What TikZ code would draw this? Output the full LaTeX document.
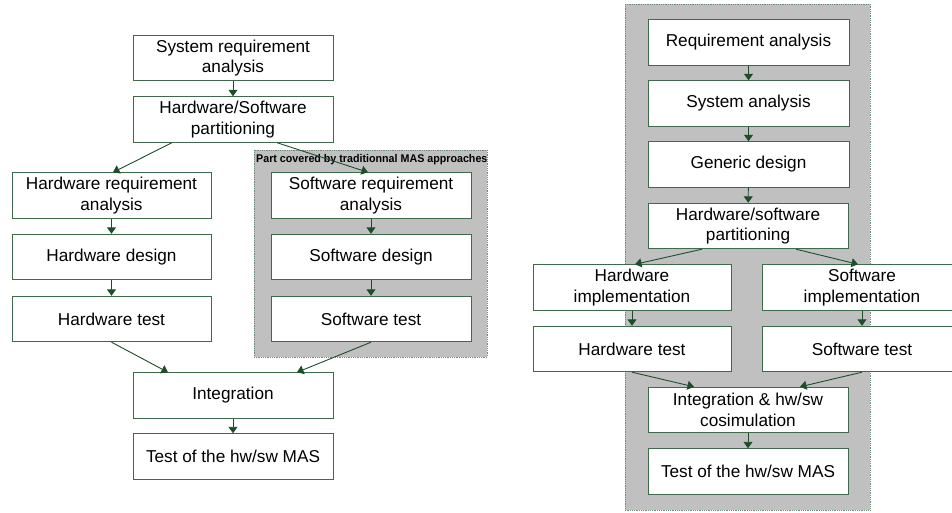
\documentclass[tikz,border=0pt]{standalone}
\usepackage{fontspec}
\setmainfont{Liberation Sans}
\usetikzlibrary{arrows.meta}
\definecolor{boxgreen}{HTML}{3C6A4A}
\definecolor{arrgreen}{HTML}{1E4D2C}
\definecolor{grayfill}{HTML}{C0C0C0}
\definecolor{grayedge}{HTML}{6F8A76}
\tikzset{
  box/.style={draw=boxgreen, line width=0.9pt, fill=white, minimum width=200pt, minimum height=45.5pt,
    inner sep=0pt, align=center, font=\fontsize{17.2}{20.8}\selectfont},
  conn/.style={draw=arrgreen, line width=0.9pt, -{Triangle[width=9pt,length=6.5pt]}},
  region/.style={fill=grayfill, draw=grayedge, densely dotted, line width=0.8pt}
}
\begin{document}
\begin{tikzpicture}[x=1pt,y=-1pt]
\clip (0,0) rectangle (952,513);
\fill[white] (0,0) rectangle (952,513);
% ---------- left diagram ----------
\draw[region] (254,150) rectangle (487,357);
\node[anchor=base west, inner sep=0pt] (lbl) at (256,163)
  {\scalebox{0.955}[1]{\fontsize{11.2}{13}\selectfont\bfseries Part covered by traditionnal MAS approaches}};
\node[box] (sys) at (233,58) {System requirement\\analysis};
\node[box] (part) at (233,119.5) {Hardware/Software\\partitioning};
\node[box, minimum width=199pt] (hwreq) at (111.5,195.5) {Hardware requirement\\analysis};
\node[box, minimum width=199pt] (hwdes) at (111.5,257) {Hardware design};
\node[box, minimum width=199pt] (hwtest) at (111.5,319) {Hardware test};
\node[box] (swreq) at (371,195.5) {Software requirement\\analysis};
\node[box] (swdes) at (371,257) {Software design};
\node[box] (swtest) at (371,319) {Software test};
\node[box] (integ) at (233,395.5) {Integration};
\node[box] (tmas) at (233,456.5) {Test of the hw/sw MAS};
\draw[conn] (sys) -- (part);
\draw[conn] ([xshift=-61pt]part.south) -- ([xshift=1.5pt]hwreq.north);
\draw[conn] ([xshift=44pt]part.south) -- ([xshift=-3pt]swreq.north);
\draw[conn] (hwreq) -- (hwdes);
\draw[conn] (hwdes) -- (hwtest);
\draw[conn] (swreq) -- (swdes);
\draw[conn] (swdes) -- (swtest);
\draw[conn] (hwtest.south) -- ([xshift=-65pt]integ.north);
\draw[conn] (swtest.south) -- ([xshift=64pt]integ.north);
\draw[conn] (integ) -- (tmas);
% ---------- right diagram ----------
\draw[region] (625,4) rectangle (870,510);
\node[box, minimum width=201pt] (req) at (748.5,42.5) {Requirement analysis};
\node[box, minimum width=201pt] (sysan) at (748.5,103.5) {System analysis};
\node[box, minimum width=201pt] (gen) at (748.5,164.5) {Generic design};
\node[box] (part2) at (748,226) {Hardware/software\\partitioning};
\node[box, minimum width=198pt] (hwimp) at (632,287.5) {Hardware\\implementation};
\node[box] (swimp) at (862,287.5) {Software\\implementation};
\node[box, minimum width=198pt] (hwt2) at (632,349) {Hardware test};
\node[box] (swt2) at (862,349) {Software test};
\node[box] (integ2) at (748,410) {Integration \& hw/sw\\cosimulation};
\node[box] (tmas2) at (748,471.5) {Test of the hw/sw MAS};
\draw[conn] (req) -- (sysan);
\draw[conn] (sysan) -- (gen);
\draw[conn] (gen) -- (part2);
\draw[conn] ([xshift=-46pt]part2.south) -- ([xshift=3pt]hwimp.north);
\draw[conn] ([xshift=48pt]part2.south) -- ([xshift=-4pt]swimp.north);
\draw[conn] (hwimp) -- (hwt2);
\draw[conn] (swimp) -- (swt2);
\draw[conn] (hwt2.south) -- ([xshift=-54pt]integ2.north);
\draw[conn] (swt2.south) -- ([xshift=52pt]integ2.north);
\draw[conn] (integ2) -- (tmas2);
\end{tikzpicture}
\end{document}
